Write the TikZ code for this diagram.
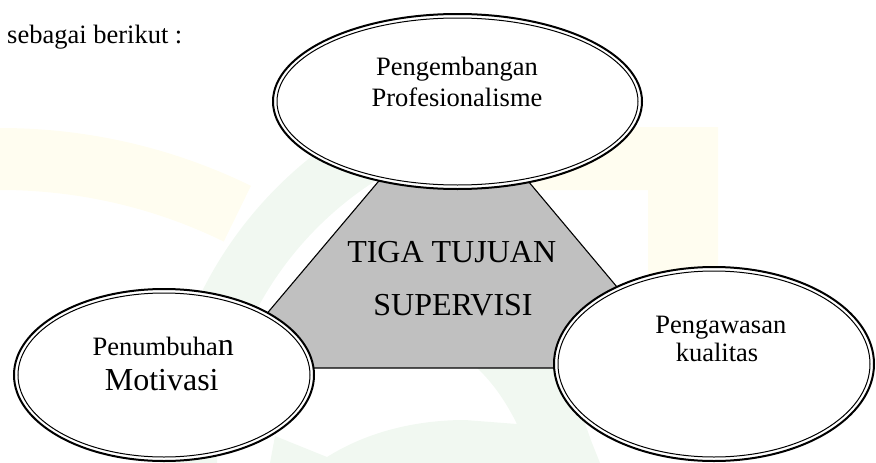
\documentclass[tikz,border=0pt]{standalone}
\usepackage{fontspec}
\setmainfont{Liberation Serif}
\usetikzlibrary{shapes.geometric}
\definecolor{wmyellow}{RGB}{255,253,240}
\definecolor{wmgreen}{RGB}{241,248,241}
\definecolor{panelgray}{RGB}{192,192,192}
\tikzset{
  ringouter/.style={ellipse, draw, line width=2pt, fill=white, inner sep=0pt},
  ringinner/.style={line width=1pt},
  lbl/.style={anchor=base, inner sep=0pt, font=\fontsize{26.5}{31}\selectfont},
  biglbl/.style={anchor=base, inner sep=0pt, font=\fontsize{32}{38}\selectfont},
}
\begin{document}
\begin{tikzpicture}[x=1pt,y=-1pt]
\useasboundingbox (0,0) rectangle (876,463);

% faint background emblem
\begin{scope}
  \clip (0,700) -- (307,71) -- (-10,-10) -- (-10,700) -- cycle;
  \fill[wmyellow, even odd rule] (0,700) circle[radius=572] (0,700) circle[radius=510];
\end{scope}
\begin{scope}
  \clip (560,470) -- (496,0) -- (-10,0) -- (-10,470) -- cycle;
  \fill[wmgreen, even odd rule] (560,470) circle[radius=400] (560,470) circle[radius=343];
\end{scope}
\fill[wmyellow] (530,127) -- (718,127) -- (718,330) -- (648,330) -- (648,190) -- (530,190) -- cycle;
\fill[wmgreen] (270,463) -- (275,436) -- (327,457)
  .. controls (370,430) and (420,420) .. (465,420) -- (517,424)
  .. controls (505,400) and (492,382) .. (477,368) -- (565,368) -- (592,443) -- (600,463) -- cycle;

% central panel
\filldraw[fill=panelgray, draw=black, line width=1.1pt]
  (405,150) -- (502,150) -- (685,368) -- (221,368) -- cycle;

% double-ringed ellipses
\node[ringouter, minimum width=369pt, minimum height=175pt] (topring) at (457.5,101.5) {};
\draw[ringinner] (topring.center) ellipse [x radius=180.5, y radius=83.5];
\node[ringouter, minimum width=300pt, minimum height=172pt] (leftring) at (164,375) {};
\draw[ringinner] (leftring.center) ellipse [x radius=146, y radius=82];
\node[ringouter, minimum width=320pt, minimum height=194pt] (rightring) at (714,364) {};
\draw[ringinner] (rightring.center) ellipse [x radius=156, y radius=93];

% texts
\node[lbl, anchor=base west] (intro) at (7,43) {sebagai berikut :};
\node[lbl] (top1) at (457,75) {Pengembangan};
\node[lbl] (top2) at (457,106) {Profesionalisme};
\node[biglbl] (mid1) at (451.7,262.3) {TIGA TUJUAN};
\node[biglbl] (mid2) at (453,315.7) {SUPERVISI};
\node[lbl] (left1) at (163.3,355.7) {Penumbuha{\fontsize{32}{38}\selectfont n}};
\node[biglbl] (left2) at (161.7,390) {Motivasi};
\node[lbl] (right1) at (720.8,333.3) {Pengawasan};
\node[lbl] (right2) at (717,361.7) {kualitas};
\end{tikzpicture}
\end{document}
